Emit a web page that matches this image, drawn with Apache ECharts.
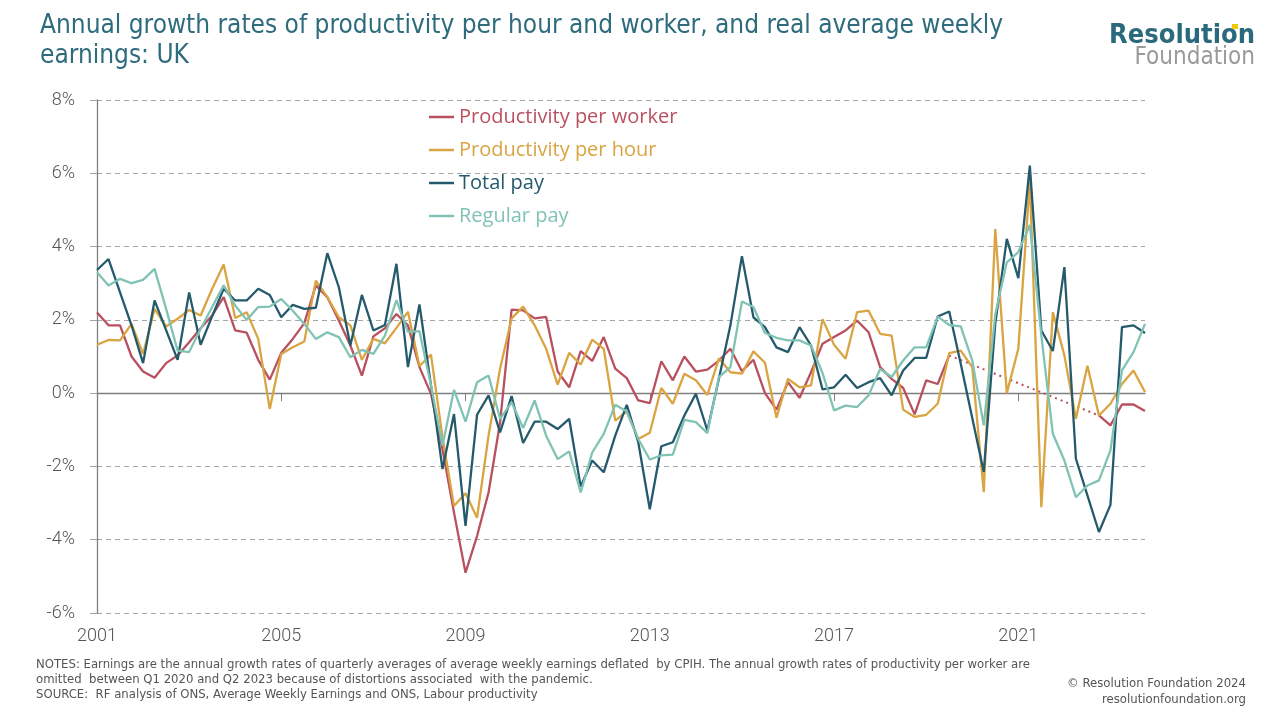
<!DOCTYPE html>
<html>
<head>
<meta charset="utf-8">
<script src="https://cdn.jsdelivr.net/npm/echarts@6/dist/echarts.min.js"></script>
<style>
html,body{margin:0;padding:0;background:#fff;}
#chart{width:1280px;height:720px;}
</style>
</head>
<body>
<div id="chart"></div>
<script>
// ---- data ----
const startYear = 2001, endYear = 2023;
const quarters = [];
for (let y = startYear; y <= endYear; y++) { for (let q = 1; q <= 4; q++) quarters.push(y + ' Q' + q); }
const yearTickLabels = ['2001', '2005', '2009', '2013', '2017', '2021'];

const productivityPerWorker = [
  2.2, 1.85, 1.85, 1.0, 0.59, 0.42, 0.82, 1.03, 1.39, 1.77, 2.12, 2.62, 1.71, 1.65, 0.91, 0.37,
  1.1, 1.48, 1.91, 2.94, 2.62, 1.98, 1.3, 0.48, 1.55, 1.77, 2.16, 1.85, 0.71, -0.02, -1.53, -3.26,
  -4.9, -3.9, -2.71, -0.8, 2.28, 2.26, 2.04, 2.08, 0.59, 0.16, 1.15, 0.88, 1.53, 0.67, 0.41, -0.2,
  -0.27, 0.87, 0.35, 1.0, 0.59, 0.64, 0.89, 1.21, 0.6, 0.91, 0.0, -0.45, 0.3, -0.13, 0.57, 1.35,
  1.53, 1.71, 1.98, 1.66, 0.71, 0.39, 0.14, -0.58, 0.35, 0.25, 1.03, null, null, null, null, null,
  null, null, null, null, null, null, null, -0.61, -0.88, -0.31, -0.31, -0.49
];
// dotted bridge over the omitted pandemic period (endpoints only)
const productivityPerWorkerGap = [
  null, null, null, null, null, null, null, null, null, null, null, null, null, null, null, null,
  null, null, null, null, null, null, null, null, null, null, null, null, null, null, null, null,
  null, null, null, null, null, null, null, null, null, null, null, null, null, null, null, null,
  null, null, null, null, null, null, null, null, null, null, null, null, null, null, null, null,
  null, null, null, null, null, null, null, null, null, null, 1.03, null, null, null, null, null,
  null, null, null, null, null, null, null, -0.61, null, null, null, null
];
const productivityPerHour = [
  1.32, 1.45, 1.44, 1.89, 1.07, 2.3, 1.82, 2.03, 2.27, 2.12, 2.85, 3.51, 2.05, 2.21, 1.48, -0.43,
  1.07, 1.25, 1.41, 3.07, 2.62, 2.07, 1.85, 0.91, 1.48, 1.36, 1.78, 2.22, 0.74, 1.05, -1.2, -3.08,
  -2.73, -3.4, -1.16, 0.67, 2.04, 2.36, 1.85, 1.21, 0.23, 1.1, 0.78, 1.46, 1.21, -0.75, -0.5, -1.25,
  -1.08, 0.14, -0.29, 0.53, 0.35, -0.05, 0.95, 0.57, 0.53, 1.14, 0.83, -0.67, 0.39, 0.16, 0.21, 2.02,
  1.32, 0.94, 2.21, 2.25, 1.62, 1.57, -0.45, -0.65, -0.59, -0.29, 1.09, 1.16, 0.71, -2.7, 4.48, 0.0,
  1.21, 5.8, -3.11, 2.21, 1.03, -0.7, 0.75, -0.61, -0.29, 0.25, 0.62, 0.03
];
const totalPay = [
  3.36, 3.66, 2.75, 1.85, 0.82, 2.53, 1.72, 0.91, 2.75, 1.32, 2.1, 2.85, 2.53, 2.53, 2.85, 2.68,
  2.07, 2.41, 2.3, 2.33, 3.82, 2.89, 1.3, 2.68, 1.71, 1.86, 3.53, 0.71, 2.42, 0.21, -2.07, -0.57,
  -3.62, -0.59, -0.06, -1.07, -0.08, -1.36, -0.78, -0.78, -0.98, -0.7, -2.55, -1.84, -2.16, -1.16, -0.32, -1.34,
  -3.17, -1.45, -1.34, -0.61, -0.02, -1.02, 0.39, 1.85, 3.74, 2.07, 1.8, 1.25, 1.12, 1.8, 1.3, 0.1,
  0.16, 0.5, 0.14, 0.3, 0.41, -0.06, 0.62, 0.96, 0.96, 2.09, 2.23, 0.8, -0.68, -2.15, 1.9, 4.21,
  3.14, 6.21, 1.71, 1.15, 3.44, -1.79, -2.79, -3.79, -3.05, 1.8, 1.85, 1.64
];
const regularPay = [
  3.3, 2.94, 3.12, 3.0, 3.09, 3.39, 2.3, 1.16, 1.12, 1.75, 2.35, 2.94, 2.39, 2.0, 2.35, 2.36,
  2.57, 2.25, 1.89, 1.48, 1.66, 1.53, 0.98, 1.18, 1.07, 1.57, 2.54, 1.67, 1.69, 0.21, -1.43, 0.09,
  -0.78, 0.3, 0.48, -0.7, -0.25, -0.95, -0.2, -1.16, -1.8, -1.59, -2.71, -1.62, -1.11, -0.32, -0.5, -1.25,
  -1.81, -1.7, -1.68, -0.73, -0.79, -1.09, 0.44, 0.71, 2.5, 2.35, 1.64, 1.51, 1.44, 1.44, 1.3, 0.55,
  -0.47, -0.34, -0.38, -0.06, 0.66, 0.44, 0.89, 1.25, 1.25, 2.09, 1.86, 1.82, 0.89, -0.88, 2.15, 3.57,
  3.85, 4.59, 1.57, -1.11, -1.84, -2.84, -2.52, -2.38, -1.56, 0.62, 1.12, 1.89
];

const seriesNames = ['Productivity per worker', 'Productivity per hour', 'Total pay', 'Regular pay'];
const seriesColors = ['#b9505f', '#d9a441', '#245a6c', '#80c3b4'];

// ---- chart ----
const chart = echarts.init(document.getElementById('chart'), null, { renderer: 'canvas' });
const FONT = 'Roboto, "Open Sans", "DejaVu Sans", sans-serif';
const LEGEND_FONT = '"Open Sans", Roboto, "DejaVu Sans", sans-serif';
const NARROW = '"Liberation Sans Narrow", "DejaVu Sans Condensed", "Roboto Condensed", sans-serif';
const isYearTick = (idx) => idx % 16 === 0;

function lineSeries(name, data, color, extra) {
  return Object.assign({
    name: name, type: 'line', data: data, xAxisIndex: 0, yAxisIndex: 0,
    symbol: 'none', showSymbol: false, smooth: false, connectNulls: false,
    lineStyle: { color: color, width: 2.3 }, itemStyle: { color: color },
    emphasis: { disabled: true }
  }, extra || {});
}

chart.setOption({
  animation: false,
  backgroundColor: '#ffffff',
  grid: { left: 97, right: 135, top: 100, bottom: 107, containLabel: false },
  legend: {
    orient: 'vertical', left: 429, top: 107, padding: 0,
    icon: 'rect', itemWidth: 25, itemHeight: 2.5, itemGap: 13,
    textStyle: { fontFamily: LEGEND_FONT, fontSize: 20, lineHeight: 20 },
    data: seriesNames.map((n, i) => ({ name: n, icon: 'rect', itemStyle: { color: seriesColors[i] }, textStyle: { color: seriesColors[i] } })),
    selectedMode: false
  },
  xAxis: [
    {
      type: 'category', data: quarters, boundaryGap: false, position: 'bottom',
      axisLine: { show: true, onZero: true, lineStyle: { color: '#7f7f7f', width: 1.3 } },
      axisTick: { show: true, interval: (idx) => isYearTick(idx), length: 8, lineStyle: { color: '#7f7f7f' } },
      axisLabel: { show: false },
      splitLine: { show: false }
    },
    {
      type: 'category', data: quarters, boundaryGap: false, position: 'bottom',
      axisLine: { show: false, onZero: false },
      axisTick: { show: false },
      axisLabel: {
        show: true, interval: (idx) => isYearTick(idx), margin: 14,
        formatter: (v) => { const y = v.slice(0, 4); return yearTickLabels.indexOf(y) >= 0 ? y : ''; },
        color: '#555555', fontFamily: FONT, fontSize: 18, fontWeight: 300
      },
      splitLine: { show: false }
    }
  ],
  yAxis: {
    type: 'value', min: -6, max: 8, interval: 2,
    axisLine: { show: true, lineStyle: { color: '#7f7f7f', width: 1.3 } },
    axisTick: { show: true, length: 7, lineStyle: { color: '#a6a6a6' } },
    axisLabel: { formatter: '{value}%', color: '#555555', fontFamily: FONT, fontSize: 18, fontWeight: 300, margin: 22 },
    splitLine: { show: true, lineStyle: { color: '#a6a6a6', type: [5, 4], width: 1 } }
  },
  series: [
    lineSeries(seriesNames[0], productivityPerWorker, seriesColors[0]),
    lineSeries('gap', productivityPerWorkerGap, seriesColors[0], {
      connectNulls: true, lineStyle: { color: seriesColors[0], width: 2, type: [2, 4] }
    }),
    lineSeries(seriesNames[1], productivityPerHour, seriesColors[1]),
    lineSeries(seriesNames[2], totalPay, seriesColors[2]),
    lineSeries(seriesNames[3], regularPay, seriesColors[3])
  ],
  graphic: [
    { type: 'text', left: 40, top: 13, style: { text: 'Annual growth rates of productivity per hour and worker, and real average weekly', fill: '#2d6b7d', font: '26px ' + NARROW } },
    { type: 'text', left: 40, top: 43, style: { text: 'earnings: UK', fill: '#2d6b7d', font: '26px ' + NARROW } },
    { type: 'text', right: 25, top: 22, style: { text: 'Resolution', fill: '#2b6a7c', font: 'bold 27px ' + NARROW } },
    { type: 'text', right: 25, top: 46, style: { text: 'Foundation', fill: '#9a9a9a', font: '24px ' + NARROW } },
    { type: 'rect', shape: { x: 1232, y: 24, width: 6, height: 5 }, style: { fill: '#f2c900' } },
    { type: 'text', left: 36, top: 658, style: { text: 'NOTES: Earnings are the annual growth rates of quarterly averages of average weekly earnings deflated  by CPIH. The annual growth rates of productivity per worker are', fill: '#555555', font: '13px ' + NARROW } },
    { type: 'text', left: 36, top: 673, style: { text: 'omitted  between Q1 2020 and Q2 2023 because of distortions associated  with the pandemic.', fill: '#555555', font: '13px ' + NARROW } },
    { type: 'text', left: 36, top: 688, style: { text: 'SOURCE:  RF analysis of ONS, Average Weekly Earnings and ONS, Labour productivity', fill: '#555555', font: '13px ' + NARROW } },
    { type: 'text', right: 34, top: 677, style: { text: '© Resolution Foundation 2024', fill: '#555555', font: '13px ' + NARROW } },
    { type: 'text', right: 34, top: 693, style: { text: 'resolutionfoundation.org', fill: '#555555', font: '13px ' + NARROW } }
  ]
});
</script>
</body>
</html>
